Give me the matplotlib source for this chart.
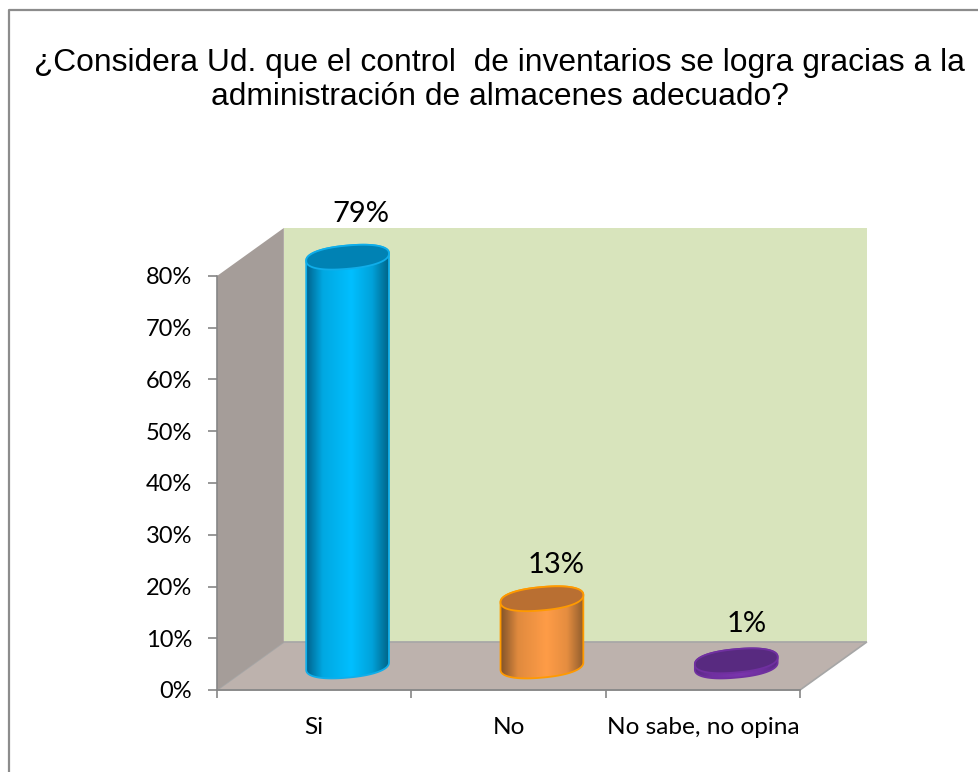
import numpy as np
import matplotlib
matplotlib.use("Agg")
import matplotlib.pyplot as plt
from matplotlib.colors import LinearSegmentedColormap
from matplotlib.lines import Line2D
from matplotlib.patches import Polygon

categories = ["Si", "No", "No sabe, no opina"]
values = [79, 13, 1]
value_labels = ["79%", "13%", "1%"]
y_ticks = [0, 10, 20, 30, 40, 50, 60, 70, 80]

title_lines = ["¿Considera Ud. que el control  de inventarios se logra gracias a la",
               "administración de almacenes adecuado?"]

# oblique depth of the fake 3D box, in data units
DEPTH_X = 0.344
DEPTH_Y = 9.28
# cylinder ellipse: half width, half height, tilt, roundness
ELL_A = 0.213
ELL_B = 2.25
ELL_S = 0.7
ELL_P = 0.88

shade_stops = [0, 0.2, 0.55, 0.8, 1]
side_colors = [
    ["#00628c", "#00a8e2", "#00bfff", "#00a2da", "#006488"],
    ["#85552a", "#e08a3e", "#ff9c47", "#e58d40", "#8f5c2d"],
    ["#5a2a86", "#7030a0", "#7a35ad", "#7030a0", "#5a2a86"],
]
top_colors = ["#0082b4", "#b96f32", "#582a80"]
edge_colors = ["#10aeea", "#ff9a00", "#7030a0"]
label_offsets = [(13, 43), (14, 34), (10, 37)]

W, H = 979, 772
fig = plt.figure(figsize=(W / 100, H / 100), dpi=100, facecolor="white")
# only the left and top sides of the outer border are drawn
fig.add_artist(Line2D([9 / W, 9 / W, 1], [0, 1 - 10 / H, 1 - 10 / H], color="#8c8c8c", linewidth=1.6,
                      transform=fig.transFigure, zorder=-1))

ax = fig.add_axes([217 / W, 1 - 690 / H, 583 / W, 414 / H])
ax.patch.set_visible(False)
ax.set_xlim(0, 3)
ax.set_ylim(0, 80)
top = y_ticks[-1]

# walls and floor
back = [(DEPTH_X, DEPTH_Y), (3 + DEPTH_X, DEPTH_Y), (3 + DEPTH_X, top + DEPTH_Y), (DEPTH_X, top + DEPTH_Y)]
ax.add_patch(Polygon(back, closed=True, facecolor="#d8e4bc", edgecolor="none", clip_on=False, zorder=1))
floor = [(0, 0), (3, 0), (3 + DEPTH_X, DEPTH_Y), (DEPTH_X, DEPTH_Y)]
ax.add_patch(Polygon(floor, closed=True, facecolor="#bdb2ad", edgecolor="#a6a6a6", linewidth=1.2,
                     clip_on=False, zorder=1.5))
side = [(0, 0), (DEPTH_X, DEPTH_Y), (DEPTH_X, top + DEPTH_Y), (0, top)]
ax.add_patch(Polygon(side, closed=True, facecolor="#a59d99", edgecolor="none", clip_on=False, zorder=1.6))


def ellipse(cx, cy, t):
    c = np.sign(np.cos(t)) * np.abs(np.cos(t)) ** ELL_P
    s = np.sign(np.sin(t)) * np.abs(np.sin(t)) ** ELL_P
    return np.column_stack([cx + ELL_A * c, cy + ELL_B * s + ELL_S * c])


# cylinders
for i, val in enumerate(values):
    cx = i + 0.5 + DEPTH_X / 2
    base = DEPTH_Y / 2
    lower = ellipse(cx, base, np.linspace(np.pi, 2 * np.pi, 60))
    upper = ellipse(cx, base + val, np.linspace(0, np.pi, 60))
    body = Polygon(np.vstack([lower, upper]), closed=True, transform=ax.transData,
                   facecolor="none", edgecolor=edge_colors[i], linewidth=1.3, zorder=3.2, clip_on=False)
    cmap = LinearSegmentedColormap.from_list(f"cyl{i}", list(zip(shade_stops, side_colors[i])))
    im = ax.imshow(np.linspace(0, 1, 128)[None, :], cmap=cmap, aspect="auto", zorder=3,
                   extent=[cx - ELL_A, cx + ELL_A, base - 5, base + val + 5])
    ax.add_patch(body)
    im.set_clip_box(fig.bbox)
    im.set_clip_path(body)
    cap = ellipse(cx, base + val, np.linspace(0, 2 * np.pi, 120))
    ax.add_patch(Polygon(cap, closed=True, facecolor=top_colors[i], edgecolor=edge_colors[i],
                         linewidth=1.3, zorder=3.4, clip_on=False))
    ax.annotate(value_labels[i], (cx, base + val), xytext=(label_offsets[i][0] * 0.72, label_offsets[i][1] * 0.72),
                textcoords="offset points", ha="center", va="center", annotation_clip=False,
                fontsize=21, family="Lato", color="black", zorder=5)

ax.set_xlim(0, 3)
ax.set_ylim(0, 80)

for name in ("top", "right"):
    ax.spines[name].set_visible(False)
for name in ("left", "bottom"):
    ax.spines[name].set_color("#868686")
    ax.spines[name].set_linewidth(1.2)
    ax.spines[name].set_zorder(2)

ax.set_yticks(y_ticks)
ax.set_yticklabels([f"{v}%" for v in y_ticks], fontsize=17, family="Lato")
ax.set_xticks([0, 1, 2, 3])
ax.set_xticklabels([])
ax.set_xticks([0.5, 1.5, 2.5], minor=True)
ax.set_xticklabels(categories, minor=True, fontsize=17.6, family="Lato")
ax.tick_params(axis="y", length=6.5, width=1.2, color="#868686", pad=11.5)
ax.tick_params(axis="x", which="major", length=6, width=1.2, color="#868686")
ax.tick_params(axis="x", which="minor", length=0, pad=19.5)

fig.text(499.5 / W, 1 - 63 / H, title_lines[0], ha="center", va="center",
         fontsize=22.9, family="Liberation Sans")
fig.text(499.5 / W, 1 - 97 / H, title_lines[1], ha="center", va="center",
         fontsize=22.9, family="Liberation Sans")

fig.savefig("out.png", dpi=100)
